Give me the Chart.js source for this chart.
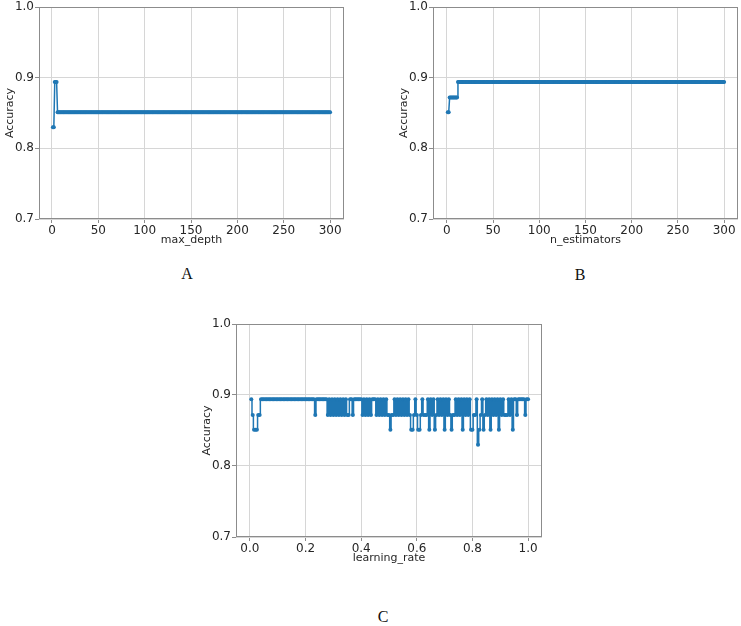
<!DOCTYPE html>
<html>
<head>
<meta charset="utf-8">
<script src="https://cdn.jsdelivr.net/npm/chart.js@4.4.1/dist/chart.umd.min.js"></script>
<style>
body { margin: 0; background: #fff; width: 741px; height: 626px; position: relative; overflow: hidden; }
canvas { position: absolute; }
.lbl { position: absolute; font-family: "Liberation Serif", "DejaVu Serif", serif; font-size: 16px; color: #111; transform: translate(-50%, -50%); }
</style>
</head>
<body>
<canvas id="chartA" width="370" height="247" style="left:0;top:0"></canvas>
<canvas id="chartB" width="371" height="247" style="left:370px;top:0"></canvas>
<canvas id="chartC" width="370" height="255" style="left:190px;top:310px"></canvas>
<div class="lbl" style="left:187px;top:274px">A</div>
<div class="lbl" style="left:580px;top:275px">B</div>
<div class="lbl" style="left:383px;top:617px">C</div>
<script>
// max_depth : runs [first, last, accuracy]
var depthRuns = [[1, 2, 0.830], [3, 5, 0.894], [6, 300, 0.851]];
// n_estimators : runs [first, last, accuracy]
var estRuns = [[1, 2, 0.851], [3, 11, 0.872], [12, 300, 0.894]];

// learning_rate sweep
var lrValues = [
  0.005, 0.010, 0.015, 0.020, 0.025, 0.030, 0.035, 0.040, 0.045, 0.050,
  0.055, 0.060, 0.065, 0.070, 0.075, 0.080, 0.085, 0.090, 0.095, 0.100,
  0.105, 0.110, 0.115, 0.120, 0.125, 0.130, 0.135, 0.140, 0.145, 0.150,
  0.155, 0.160, 0.165, 0.170, 0.175, 0.180, 0.185, 0.190, 0.195, 0.200,
  0.205, 0.210, 0.215, 0.220, 0.225, 0.230, 0.235, 0.240, 0.245, 0.250,
  0.255, 0.260, 0.265, 0.270, 0.275, 0.280, 0.285, 0.290, 0.295, 0.300,
  0.305, 0.310, 0.315, 0.320, 0.325, 0.330, 0.335, 0.340, 0.345, 0.350,
  0.355, 0.360, 0.365, 0.370, 0.375, 0.380, 0.385, 0.390, 0.395, 0.400,
  0.405, 0.410, 0.415, 0.420, 0.425, 0.430, 0.435, 0.440, 0.445, 0.450,
  0.455, 0.460, 0.465, 0.470, 0.475, 0.480, 0.485, 0.490, 0.495, 0.500,
  0.505, 0.510, 0.515, 0.520, 0.525, 0.530, 0.535, 0.540, 0.545, 0.550,
  0.555, 0.560, 0.565, 0.570, 0.575, 0.580, 0.585, 0.590, 0.595, 0.600,
  0.605, 0.610, 0.615, 0.620, 0.625, 0.630, 0.635, 0.640, 0.645, 0.650,
  0.655, 0.660, 0.665, 0.670, 0.675, 0.680, 0.685, 0.690, 0.695, 0.700,
  0.705, 0.710, 0.715, 0.720, 0.725, 0.730, 0.735, 0.740, 0.745, 0.750,
  0.755, 0.760, 0.765, 0.770, 0.775, 0.780, 0.785, 0.790, 0.795, 0.800,
  0.805, 0.810, 0.815, 0.820, 0.825, 0.830, 0.835, 0.840, 0.845, 0.850,
  0.855, 0.860, 0.865, 0.870, 0.875, 0.880, 0.885, 0.890, 0.895, 0.900,
  0.905, 0.910, 0.915, 0.920, 0.925, 0.930, 0.935, 0.940, 0.945, 0.950,
  0.955, 0.960, 0.965, 0.970, 0.975, 0.980, 0.985, 0.990, 0.995, 1.000
];
var lrAccuracy = [
  0.894, 0.872, 0.851, 0.851, 0.851, 0.872, 0.872, 0.894, 0.894, 0.894,
  0.894, 0.894, 0.894, 0.894, 0.894, 0.894, 0.894, 0.894, 0.894, 0.894,
  0.894, 0.894, 0.894, 0.894, 0.894, 0.894, 0.894, 0.894, 0.894, 0.894,
  0.894, 0.894, 0.894, 0.894, 0.894, 0.894, 0.894, 0.894, 0.894, 0.894,
  0.894, 0.894, 0.894, 0.894, 0.894, 0.894, 0.872, 0.894, 0.894, 0.894,
  0.894, 0.894, 0.894, 0.894, 0.894, 0.872, 0.894, 0.872, 0.894, 0.872,
  0.894, 0.872, 0.894, 0.872, 0.894, 0.872, 0.894, 0.872, 0.894, 0.872,
  0.872, 0.894, 0.894, 0.872, 0.894, 0.894, 0.894, 0.894, 0.894, 0.894,
  0.872, 0.894, 0.872, 0.894, 0.872, 0.894, 0.872, 0.894, 0.894, 0.894,
  0.872, 0.894, 0.872, 0.894, 0.872, 0.894, 0.872, 0.894, 0.872, 0.872,
  0.851, 0.872, 0.872, 0.894, 0.872, 0.894, 0.872, 0.894, 0.872, 0.894,
  0.872, 0.894, 0.872, 0.894, 0.872, 0.851, 0.851, 0.872, 0.894, 0.872,
  0.851, 0.851, 0.872, 0.894, 0.872, 0.872, 0.872, 0.894, 0.851, 0.894,
  0.872, 0.894, 0.851, 0.872, 0.894, 0.872, 0.894, 0.872, 0.894, 0.851,
  0.894, 0.872, 0.894, 0.872, 0.851, 0.872, 0.872, 0.894, 0.872, 0.894,
  0.872, 0.894, 0.851, 0.894, 0.872, 0.894, 0.872, 0.894, 0.851, 0.851,
  0.872, 0.872, 0.894, 0.830, 0.851, 0.872, 0.894, 0.851, 0.872, 0.894,
  0.872, 0.894, 0.851, 0.894, 0.872, 0.894, 0.872, 0.894, 0.851, 0.894,
  0.872, 0.894, 0.872, 0.872, 0.872, 0.894, 0.872, 0.894, 0.851, 0.894,
  0.894, 0.872, 0.894, 0.894, 0.894, 0.894, 0.894, 0.872, 0.894, 0.894
];

var accTicks = [0.7, 0.8, 0.9, 1.0];
var countTicks = [0, 50, 100, 150, 200, 250, 300];
var lrTicks = [0.0, 0.2, 0.4, 0.6, 0.8, 1.0];

var blue = '#1f77b4';
var gridColor = '#d6d6d6';
var frameColor = '#8c8c8c';
var textColor = '#262626';

Chart.defaults.font.family = '"DejaVu Sans", sans-serif';
Chart.defaults.color = textColor;

// dessine le cadre complet autour de la zone du graphe (style matplotlib)
var framePlugin = {
  id: 'frame',
  afterDraw: function(chart) {
    var a = chart.chartArea;
    var ctx = chart.ctx;
    ctx.save();
    ctx.strokeStyle = frameColor;
    ctx.lineWidth = 1;
    ctx.strokeRect(Math.round(a.left) + 0.5, Math.round(a.top) + 0.5,
      Math.round(a.right - a.left) - 1, Math.round(a.bottom - a.top) - 1);
    ctx.restore();
  }
};

var fromRuns = function(runs) {
  var pts = [];
  runs.forEach(function(r) {
    for (var x = r[0]; x <= r[1]; x++) {
      pts.push({ x: x, y: r[2] });
    }
  });
  return pts;
};

var makeChart = function(id, points, opt) {
  var ctx = document.getElementById(id).getContext('2d');
  return new Chart(ctx, {
    type: 'line',
    data: {
      datasets: [{
        data: points,
        borderColor: blue,
        backgroundColor: blue,
        borderWidth: 1.5,
        pointRadius: 2,
        pointBorderWidth: 0,
        pointHoverRadius: 2,
        stepped: opt.stepped || false,
        tension: 0
      }]
    },
    options: {
      responsive: false,
      animation: false,
      devicePixelRatio: 1,
      layout: { padding: { left: 0, top: opt.top, right: opt.right, bottom: 0 } },
      plugins: { legend: { display: false }, tooltip: { enabled: false } },
      scales: {
        x: {
          type: 'linear',
          min: opt.xMin,
          max: opt.xMax,
          afterBuildTicks: function(s) { s.ticks = opt.xTicks.map(function(v) { return { value: v }; }); },
          afterFit: function(s) { s.height = opt.xHeight; s.paddingLeft = 0; s.paddingRight = 0; },
          ticks: {
            font: { size: 12 },
            padding: 1,
            maxRotation: 0,
            autoSkip: false,
            callback: opt.xFormat
          },
          grid: { color: gridColor, drawTicks: true, tickLength: 4, tickColor: frameColor },
          border: { display: false },
          title: { display: true, text: opt.xTitle, font: { size: 11 }, padding: { top: 0, bottom: 0 } }
        },
        y: {
          min: 0.7,
          max: 1.0,
          afterBuildTicks: function(s) { s.ticks = accTicks.map(function(v) { return { value: v }; }); },
          afterFit: function(s) { s.width = opt.yWidth; s.paddingTop = 0; s.paddingBottom = 0; },
          ticks: {
            font: { size: 12 },
            padding: 1,
            callback: function(v) { return v.toFixed(1); }
          },
          grid: { color: gridColor, drawTicks: true, tickLength: 4, tickColor: frameColor },
          border: { display: false },
          title: { display: true, text: 'Accuracy', font: { size: 11 }, padding: { top: opt.yTitlePad, bottom: 0 } }
        }
      }
    },
    plugins: [framePlugin]
  });
};

var intFormat = function(v) { return String(v); };
var decFormat = function(v) { return v.toFixed(1); };

var lrPoints = lrValues.map(function(x, i) { return { x: x, y: lrAccuracy[i] }; });

makeChart('chartA', fromRuns(depthRuns), {
  xMin: -14, xMax: 315, xTicks: countTicks, xFormat: intFormat, xTitle: 'max_depth',
  top: 7, right: 26, yWidth: 39, xHeight: 28, yTitlePad: 3.5
});
makeChart('chartB', fromRuns(estRuns), {
  xMin: -15, xMax: 315, xTicks: countTicks, xFormat: intFormat, xTitle: 'n_estimators',
  top: 7, right: 3, yWidth: 63, xHeight: 28, yTitlePad: 27.5
});
makeChart('chartC', lrPoints, {
  xMin: -0.05, xMax: 1.05, xTicks: lrTicks, xFormat: decFormat, xTitle: 'learning_rate',
  top: 14, right: 18, yWidth: 46, xHeight: 28, yTitlePad: 10.5, stepped: 'middle'
});
</script>
</body>
</html>
